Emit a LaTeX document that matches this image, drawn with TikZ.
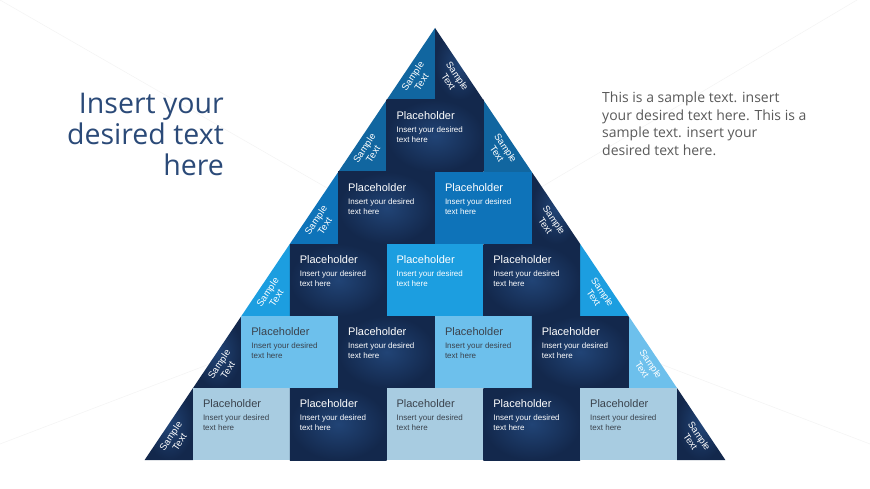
\documentclass[tikz,border=0pt]{standalone}
\usepackage{fontspec}
\setmainfont{Open Sans}
\newfontfamily\arialfont{Liberation Sans}

\definecolor{navyin}{RGB}{33,68,118}
\definecolor{navyout}{RGB}{19,40,76}
\definecolor{tierA}{RGB}{17,102,160}
\definecolor{tierB}{RGB}{14,115,185}
\definecolor{tierC}{RGB}{28,158,224}
\definecolor{tierD}{RGB}{109,192,236}
\definecolor{tierE}{RGB}{168,204,225}
\definecolor{titleblue}{RGB}{43,74,120}
\definecolor{bodygray}{RGB}{90,90,90}
\definecolor{phdark}{RGB}{58,66,76}

\newcommand{\phtext}{\parbox[c][48pt][t]{76.8pt}{\fontsize{11}{13}\selectfont Placeholder\par\vspace{3pt}\fontsize{8}{10}\selectfont Insert your desired\par text here}}

\tikzset{
  navyshade/.style={inner color=navyin, outer color=navyout},
  navybox/.style={shade, navyshade, minimum width=96.8pt, minimum height=72pt, inner sep=0pt, outer sep=0pt, text=white, font=\arialfont},
  tierbox/.style={fill=#1, minimum width=96.8pt, minimum height=72pt, inner sep=0pt, outer sep=0pt, text=white, font=\arialfont},
  sample/.style={text=white, font=\arialfont\fontsize{9.5}{10.5}\selectfont, align=center, inner sep=0pt},
}

\begin{document}
\begin{tikzpicture}[x=1pt, y=-1pt]
  % Background
  \fill[white] (0,0) rectangle (870,489);
  \useasboundingbox (0,0) rectangle (870,489);
  \draw[gray!10] (0,0) -- (435,250) -- (857,0);
  \draw[gray!10] (0,444) -- (435,278) -- (870,444);

  % Row 0 (apex)
  \fill[tierA] (435,28) -- (386.6,100) -- (435,100) -- cycle;
  \shade[navyshade] (435,28) -- (483.4,100) -- (435,100) -- cycle;
  \node[sample, rotate=56] (l0) at (417,79) {Sample\\Text};
  \node[sample, rotate=-56] (r0) at (453,79) {Sample\\Text};

  % Row 1
  \fill[tierA] (386.6,100) -- (338.2,172) -- (386.6,172) -- cycle;
  \fill[tierA] (483.4,100) -- (531.8,172) -- (483.4,172) -- cycle;
  \node[navybox] (s11) at (435,136) {\phtext};
  \node[sample, rotate=56] (l1) at (368.6,151) {Sample\\Text};
  \node[sample, rotate=-56] (r1) at (501.4,151) {Sample\\Text};

  % Row 2
  \fill[tierB] (338.2,172) -- (289.8,244) -- (338.2,244) -- cycle;
  \shade[navyshade] (531.8,172) -- (580.2,244) -- (531.8,244) -- cycle;
  \node[navybox] (s21) at (386.6,208) {\phtext};
  \node[tierbox=tierB] (s22) at (483.4,208) {\phtext};
  \node[sample, rotate=56] (l2) at (320.2,223) {Sample\\Text};
  \node[sample, rotate=-56] (r2) at (549.8,223) {Sample\\Text};

  % Row 3
  \fill[tierC] (289.8,244) -- (241.4,316) -- (289.8,316) -- cycle;
  \fill[tierC] (580.2,244) -- (628.6,316) -- (580.2,316) -- cycle;
  \node[navybox] (s31) at (338.2,280) {\phtext};
  \node[tierbox=tierC] (s32) at (435,280) {\phtext};
  \node[navybox] (s33) at (531.8,280) {\phtext};
  \node[sample, rotate=56] (l3) at (271.8,295) {Sample\\Text};
  \node[sample, rotate=-56] (r3) at (598.2,295) {Sample\\Text};

  % Row 4
  \shade[navyshade] (241.4,316) -- (193,388) -- (241.4,388) -- cycle;
  \fill[tierD] (628.6,316) -- (677,388) -- (628.6,388) -- cycle;
  \node[tierbox=tierD, text=phdark] (s41) at (289.8,352) {\phtext};
  \node[navybox] (s42) at (386.6,352) {\phtext};
  \node[tierbox=tierD, text=phdark] (s43) at (483.4,352) {\phtext};
  \node[navybox] (s44) at (580.2,352) {\phtext};
  \node[sample, rotate=56] (l4) at (223.4,367) {Sample\\Text};
  \node[sample, rotate=-56] (r4) at (646.6,367) {Sample\\Text};

  % Row 5 (base)
  \shade[navyshade] (193,388) -- (144.6,460) -- (193,460) -- cycle;
  \shade[navyshade] (677,388) -- (725.4,460) -- (677,460) -- cycle;
  \node[tierbox=tierE, text=phdark] (s51) at (241.4,424) {\phtext};
  \node[navybox] (s52) at (338.2,424) {\phtext};
  \node[tierbox=tierE, text=phdark] (s53) at (435,424) {\phtext};
  \node[navybox] (s54) at (531.8,424) {\phtext};
  \node[tierbox=tierE, text=phdark] (s55) at (628.6,424) {\phtext};
  \node[sample, rotate=56] (l5) at (175,439) {Sample\\Text};
  \node[sample, rotate=-56] (r5) at (695,439) {Sample\\Text};

  % Side texts
  \node[anchor=north east, align=right, inner sep=0pt, text=titleblue, font=\fontsize{28.5}{31}\selectfont] (title) at (224,93) {Insert your\\desired text\\here};
  \node[anchor=north west, align=left, inner sep=0pt, text=bodygray, font=\fontsize{14}{17.5}\selectfont] (body) at (602,92) {This is a sample text. insert\\your desired text here. This is a\\sample text. insert your\\desired text here.};
\end{tikzpicture}
\end{document}
